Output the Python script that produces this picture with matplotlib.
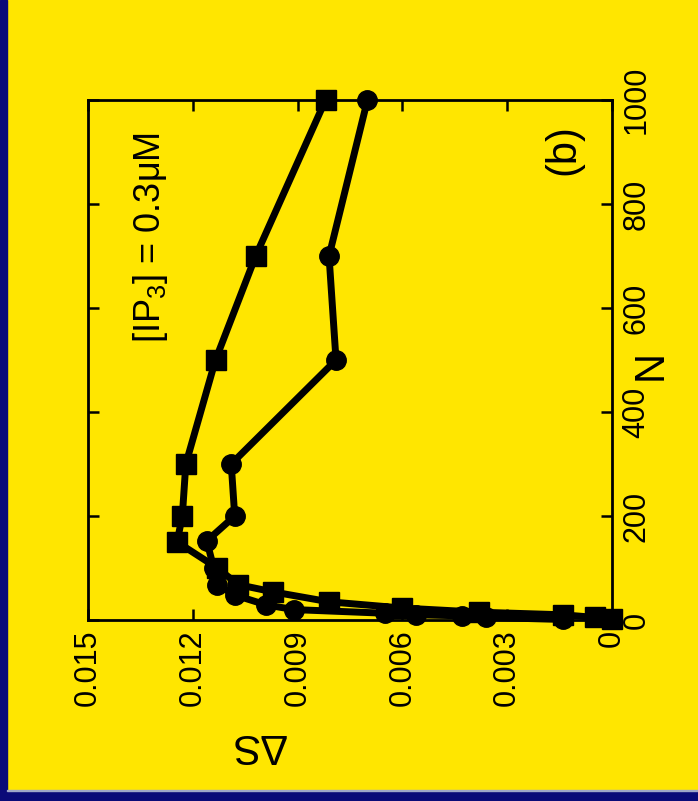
import matplotlib
matplotlib.use("Agg")
import matplotlib.pyplot as plt
from matplotlib.patches import Rectangle

plt.rcParams["font.family"] = ["Liberation Sans", "DejaVu Sans"]
plt.rcParams["mathtext.fontset"] = "custom"
plt.rcParams["mathtext.rm"] = "Liberation Sans"
plt.rcParams["mathtext.it"] = "Liberation Sans"

# squares
n_sq = [1, 5, 10, 15, 23, 35, 54, 68, 100, 150, 200, 300, 500, 700, 1000]
ds_sq = [0.0, 0.0005, 0.0014, 0.0038, 0.0060, 0.0081, 0.0097, 0.0107, 0.0113,
         0.01245, 0.0123, 0.0122, 0.01135, 0.0102, 0.0082]

# circles
n_ci = [1, 5, 8, 10, 13, 20, 29, 48, 68, 100, 152, 200, 300, 500, 700, 1000]
ds_ci = [0.0014, 0.0036, 0.0043, 0.0056, 0.0065, 0.0091, 0.0099, 0.0108, 0.0113,
         0.0114, 0.0116, 0.0108, 0.0109, 0.0079, 0.0081, 0.0070]

ds_ticks = [0, 0.003, 0.006, 0.009, 0.012, 0.015]
ds_labels = ["0", "0.003", "0.006", "0.009", "0.012", "0.015"]
n_ticks = [0, 200, 400, 600, 800, 1000]

yellow = "#ffe600"
navy = "#0a0a78"

fig = plt.figure(figsize=(6.98, 8.01), dpi=100, facecolor=yellow)
ax = fig.add_axes([88 / 698, 1 - 620 / 801, (612 - 88) / 698, (620 - 100) / 801])
ax.set_facecolor(yellow)

# figure is turned on its side: dS runs right-to-left, N runs upward
ax.plot(ds_sq, n_sq, color="black", lw=5, marker="s", ms=14, clip_on=False, zorder=3)
ax.plot(ds_ci, n_ci, color="black", lw=5, marker="o", ms=14, clip_on=False, zorder=3)

ax.set_xlim(0.015, 0)
ax.set_ylim(0, 1000)
ax.set_xticks(ds_ticks)
ax.set_xticklabels(ds_labels, rotation=90)
ax.set_yticks(n_ticks)
ax.set_yticklabels([str(t) for t in n_ticks], rotation=90, va="center")

ax.yaxis.tick_right()
ax.yaxis.set_label_position("right")
ax.tick_params(axis="both", direction="in", length=8, width=1.8, labelsize=22,
               top=True, bottom=True, left=True, right=True, pad=7)
for s in ax.spines.values():
    s.set_linewidth(2)

ax.set_ylabel("N", fontsize=30, rotation=90, va="center", ha="center")
ax.yaxis.set_label_coords(1.073, 0.49)
ax.set_xlabel("ΔS", fontsize=30, rotation=180, va="center", ha="center")
ax.xaxis.set_label_coords(0.325, -0.24)

ax.text(0.0132, 735, "[IP$_3$] = 0.3μM", fontsize=26, rotation=90,
        ha="center", va="center")
ax.text(0.0014, 905, "(b)", fontsize=30, rotation=90, ha="center", va="center")

# dark frame along the left and bottom edges
fig.patches.append(Rectangle((0, 0), 7 / 698, 1, transform=fig.transFigure,
                             color=navy, zorder=0))
fig.patches.append(Rectangle((0, 0), 1, 10 / 801, transform=fig.transFigure,
                             color=navy, zorder=0))
fig.patches.append(Rectangle((7 / 698, 10 / 801), 1, 1.5 / 801, transform=fig.transFigure,
                             color="#9fa6c8", zorder=0))

fig.savefig("out.png", dpi=100, facecolor=yellow)
